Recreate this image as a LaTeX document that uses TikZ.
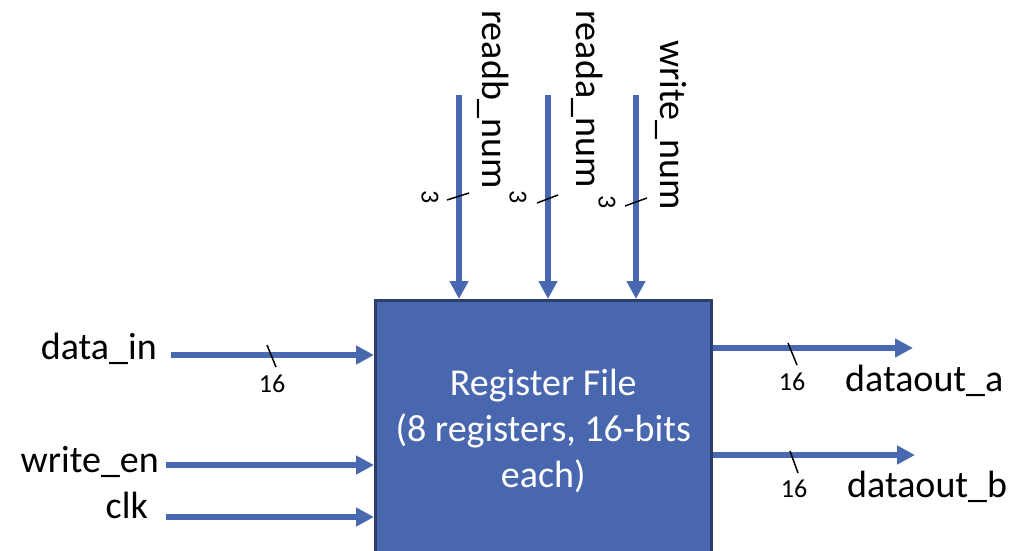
\documentclass[tikz,border=0pt]{standalone}
\usepackage{fontspec}
\setmainfont{Carlito}
\usetikzlibrary{arrows.meta}
\definecolor{sigblue}{RGB}{72,104,176}
\definecolor{boxfill}{RGB}{73,103,174}
\definecolor{boxedge}{RGB}{44,62,108}
\tikzset{
  sig/.style={draw=sigblue, line width=6pt, -{Triangle[length=18pt,width=18pt]}},
  regbox/.style={draw=boxedge, fill=boxfill, line width=2.5pt, rectangle, anchor=north west,
     minimum width=336pt, minimum height=262pt, inner sep=0pt, text=white, align=center,
     font=\fontsize{38}{46}\selectfont},
  lbl/.style={inner sep=0pt, font=\fontsize{38}{44}\selectfont},
  vlbl/.style={lbl, rotate=-90, anchor=base west},
  wlbl/.style={inner sep=0pt, font=\fontsize{26}{30}\selectfont},
  tick/.style={draw=black, line width=1.5pt}
}
\begin{document}
\begin{tikzpicture}[x=1pt,y=-1pt]
\useasboundingbox (0,0) rectangle (1023,550);
\node[regbox] (rf) at (374,299) {Register File\\(8 registers, 16-bits\\each)};

% top inputs
\coordinate (rbs) at (459,95);
\coordinate (ras) at (548,95);
\coordinate (wns) at (636,95);
\draw[sig] (rbs) -- (rbs |- rf.north);
\draw[sig] (ras) -- (ras |- rf.north);
\draw[sig] (wns) -- (wns |- rf.north);
\node[vlbl] (rbl) at (482,10) {readb\_num};
\node[vlbl] (ral) at (576,10) {reada\_num};
\node[vlbl] (wnl) at (660,40) {write\_num};
\draw[tick] (447,200) -- (469,193);
\draw[tick] (537,203) -- (558,195);
\draw[tick] (625,206) -- (647,198);
\node[wlbl, rotate=-90] (rbw) at (430,197) {3};
\node[wlbl, rotate=-90] (raw) at (518,197) {3};
\node[wlbl, rotate=-90] (wnw) at (607,202) {3};

% left inputs
\node[lbl, anchor=base east] (din) at (157,359) {data\_in};
\node[lbl, anchor=base east] (wen) at (159,472) {write\_en};
\node[lbl, anchor=base east] (clk) at (148,518) {clk};
\coordinate (dis) at (171,355);
\coordinate (wes) at (166,465);
\coordinate (cks) at (166,517);
\draw[sig] (dis) -- (dis -| rf.west);
\draw[sig] (wes) -- (wes -| rf.west);
\draw[sig] (cks) -- (cks -| rf.west);
\draw[tick] (267,345) -- (276,367);
\node[wlbl] (diw) at (272,384) {16};

% right outputs
\coordinate (oae) at (913,348);
\coordinate (obe) at (915,455);
\draw[sig] (oae -| rf.east) -- (oae);
\draw[sig] (obe -| rf.east) -- (obe);
\draw[tick] (788,343) -- (797,365);
\draw[tick] (790,451) -- (798,473);
\node[wlbl] (oaw) at (792,382) {16};
\node[wlbl] (obw) at (794,489) {16};
\node[lbl, anchor=base west] (oal) at (845,391) {dataout\_a};
\node[lbl, anchor=base west] (obl) at (847,497) {dataout\_b};
\end{tikzpicture}
\end{document}
